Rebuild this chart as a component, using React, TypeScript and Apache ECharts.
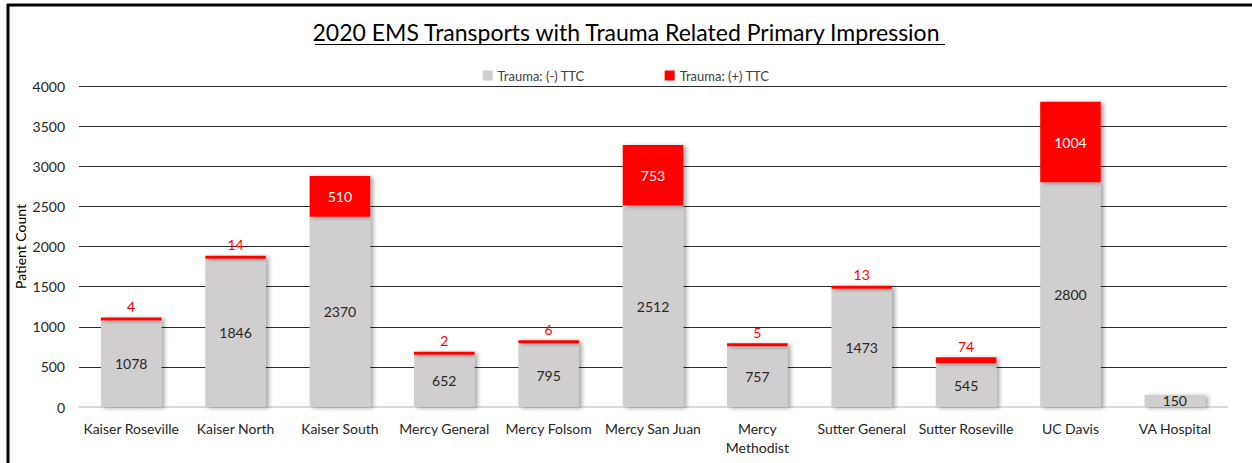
import React, { useEffect, useRef } from "react";
import * as echarts from "echarts";

const categories = [
  "Kaiser Roseville",
  "Kaiser North",
  "Kaiser South",
  "Mercy General",
  "Mercy Folsom",
  "Mercy San Juan",
  "Mercy Methodist",
  "Sutter General",
  "Sutter Roseville",
  "UC Davis",
  "VA Hospital",
];
const negativeTTC = [1078, 1846, 2370, 652, 795, 2512, 757, 1473, 545, 2800, 150];
const positiveTTC = [4, 14, 510, 2, 6, 753, 5, 13, 74, 1004, 0];
const yTicks = [0, 500, 1000, 1500, 2000, 2500, 3000, 3500, 4000];

const FONT = "Lato";

export default function App() {
  const ref = useRef<HTMLDivElement>(null);
  useEffect(() => {
    if (!ref.current) return;
    const chart = echarts.init(ref.current, null, { renderer: "svg" });
    const shadow = {
      shadowBlur: 4,
      shadowOffsetX: 3,
      shadowOffsetY: 1,
      shadowColor: "rgba(0,0,0,0.35)",
    };
    chart.setOption({
      animation: false,
      backgroundColor: "#ffffff",
      textStyle: { fontFamily: FONT },
      title: {
        text: "2020 EMS Transports with Trauma Related Primary Impression",
        left: "center",
        top: 15,
        textStyle: { fontFamily: FONT, fontSize: 23, fontWeight: "normal", color: "#000" },
      },
      graphic: [
        { type: "line", shape: { x1: 7, y1: 5, x2: 1252, y2: 5 }, style: { stroke: "#000", lineWidth: 3 } },
        { type: "line", shape: { x1: 8, y1: 4, x2: 8, y2: 463 }, style: { stroke: "#000", lineWidth: 3 } },
        { type: "line", shape: { x1: 315, y1: 44.5, x2: 945, y2: 44.5 }, style: { stroke: "#000", lineWidth: 1 } },
      ],
      legend: {
        top: 64,
        left: "center",
        itemWidth: 10,
        itemHeight: 10,
        itemGap: 80,
        icon: "rect",
        textStyle: { fontFamily: FONT, fontSize: 13, color: "#404040" },
        data: ["Trauma: (-) TTC", "Trauma: (+) TTC"],
      },
      grid: { left: 79, right: 25, top: 86, bottom: 56, containLabel: false },
      xAxis: {
        type: "category",
        data: categories,
        axisLine: { lineStyle: { color: "#d9d9d9", width: 2 } },
        axisTick: { show: false },
        axisLabel: {
          interval: 0,
          fontFamily: FONT,
          fontSize: 14,
          color: "#262626",
          margin: 12,
          lineHeight: 19,
          formatter: (v: string) => (v === "Mercy Methodist" ? "Mercy\nMethodist" : v),
        },
      },
      yAxis: {
        type: "value",
        min: yTicks[0],
        max: yTicks[yTicks.length - 1],
        interval: 500,
        name: "Patient Count",
        nameLocation: "middle",
        nameRotate: 90,
        nameGap: 52,
        nameMoveOverlap: false,
        nameTextStyle: { fontFamily: FONT, fontSize: 14, color: "#000" },
        axisLine: { show: false },
        axisTick: { show: false },
        axisLabel: {
          fontFamily: FONT,
          fontSize: 14,
          color: "#262626",
          margin: 14,
          formatter: (v: number) => String(v),
        },
        splitLine: { lineStyle: { color: "#2b2b2b", width: 1 } },
      },
      series: [
        {
          name: "Trauma: (-) TTC",
          type: "bar",
          stack: "total",
          barCategoryGap: "42%",
          data: negativeTTC,
          itemStyle: { color: "#d0cece", ...shadow },
          label: {
            show: true,
            position: "inside",
            fontFamily: FONT,
            fontSize: 14,
            color: "#262626",
          },
        },
        {
          name: "Trauma: (+) TTC",
          type: "bar",
          stack: "total",
          barMinHeight: 3,
          data: positiveTTC.map((v) =>
            v === 0
              ? "-"
              : {
                  value: v,
                  label:
                    v >= 200
                      ? { show: true, position: "inside", color: "#ffffff" }
                      : { show: true, position: "top", color: "#ff0000", distance: 4 },
                }
          ),
          itemStyle: { color: "#ff0000", ...shadow },
          label: { show: true, fontFamily: FONT, fontSize: 14 },
        },
      ],
    });
    return () => chart.dispose();
  }, []);
  return <div ref={ref} style={{ width: 1252, height: 463, position: "absolute", left: 0, top: 0 }} />;
}
